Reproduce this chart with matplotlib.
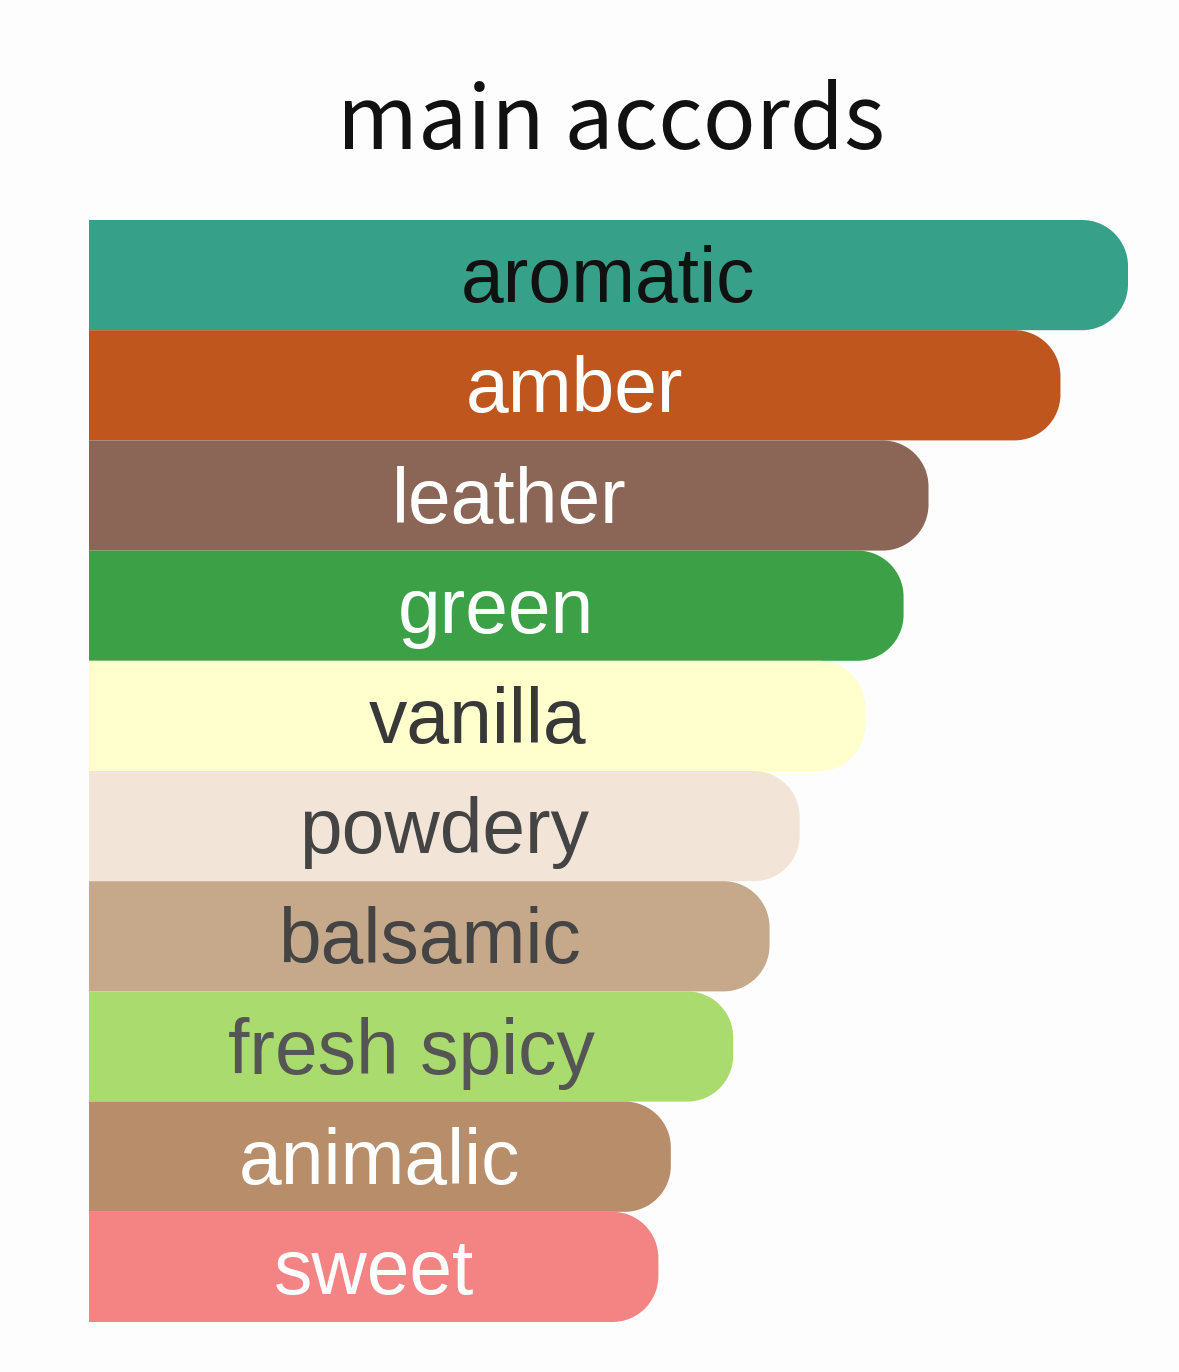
import matplotlib
matplotlib.use("Agg")
import matplotlib.pyplot as plt
from matplotlib.path import Path
from matplotlib.patches import PathPatch

# accords, strength (% of the top accord), bar colour, label colour
accords = ["aromatic", "amber", "leather", "green", "vanilla",
           "powdery", "balsamic", "fresh spicy", "animalic", "sweet"]
strength = [100, 93.5, 80.8, 78.4, 74.7, 68.4, 65.5, 62.0, 56.0, 54.8]
bar_colors = ["#37A089", "#BF561D", "#8B6657", "#3CA146", "#FFFECD",
              "#F2E5D8", "#C6A88A", "#AADB6E", "#B88D6A", "#F48484"]
text_colors = ["#111111", "#FFFFFF", "#FFFFFF", "#FFFFFF", "#383838",
               "#444444", "#444444", "#555555", "#FFFFFF", "#FFFFFF"]

W, H = 1179, 1372
fig = plt.figure(figsize=(W / 100, H / 100), dpi=100)
fig.patch.set_facecolor("#FDFDFD")

# axes placed so that 0..100 spans the bar area
left, right, top, bottom = 89, 1128, 220, 1322
ax = fig.add_axes([left / W, (H - bottom) / H, (right - left) / W, (bottom - top) / H])
ax.set_xlim(0, 100)
ax.set_ylim(len(accords) - 0.5, -0.5)
ax.axis("off")

# corner radius of 46 px expressed in data units
rx = 46 * 100 / (right - left)
ry = 46 * len(accords) / (bottom - top)
k = 0.5523


def rounded_bar(yc, w, color):
    y0, y1 = yc - 0.5, yc + 0.5
    verts = [(0, y0), (w - rx, y0),
             (w - rx + k * rx, y0), (w, y0 + ry - k * ry), (w, y0 + ry),
             (w, y1 - ry),
             (w, y1 - ry + k * ry), (w - rx + k * rx, y1), (w - rx, y1),
             (0, y1), (0, y0)]
    codes = [Path.MOVETO, Path.LINETO,
             Path.CURVE4, Path.CURVE4, Path.CURVE4,
             Path.LINETO,
             Path.CURVE4, Path.CURVE4, Path.CURVE4,
             Path.LINETO, Path.CLOSEPOLY]
    ax.add_patch(PathPatch(Path(verts, codes), facecolor=color,
                           edgecolor="none", antialiased=True))


for i, (name, val) in enumerate(zip(accords, strength)):
    rounded_bar(i, val, bar_colors[i])
    ax.text(val / 2, i + 0.06, name, ha="center", va="center",
            fontsize=55.3, family=["Liberation Sans", "DejaVu Sans"],
            color=text_colors[i])

fig.text(611 / W, 1 - 124 / H, "main accords", ha="center", va="center",
         fontsize=63, family=["Noto Sans CJK JP", "DejaVu Sans"], color="#111111")

fig.savefig("out.png", dpi=100, facecolor=fig.get_facecolor())
